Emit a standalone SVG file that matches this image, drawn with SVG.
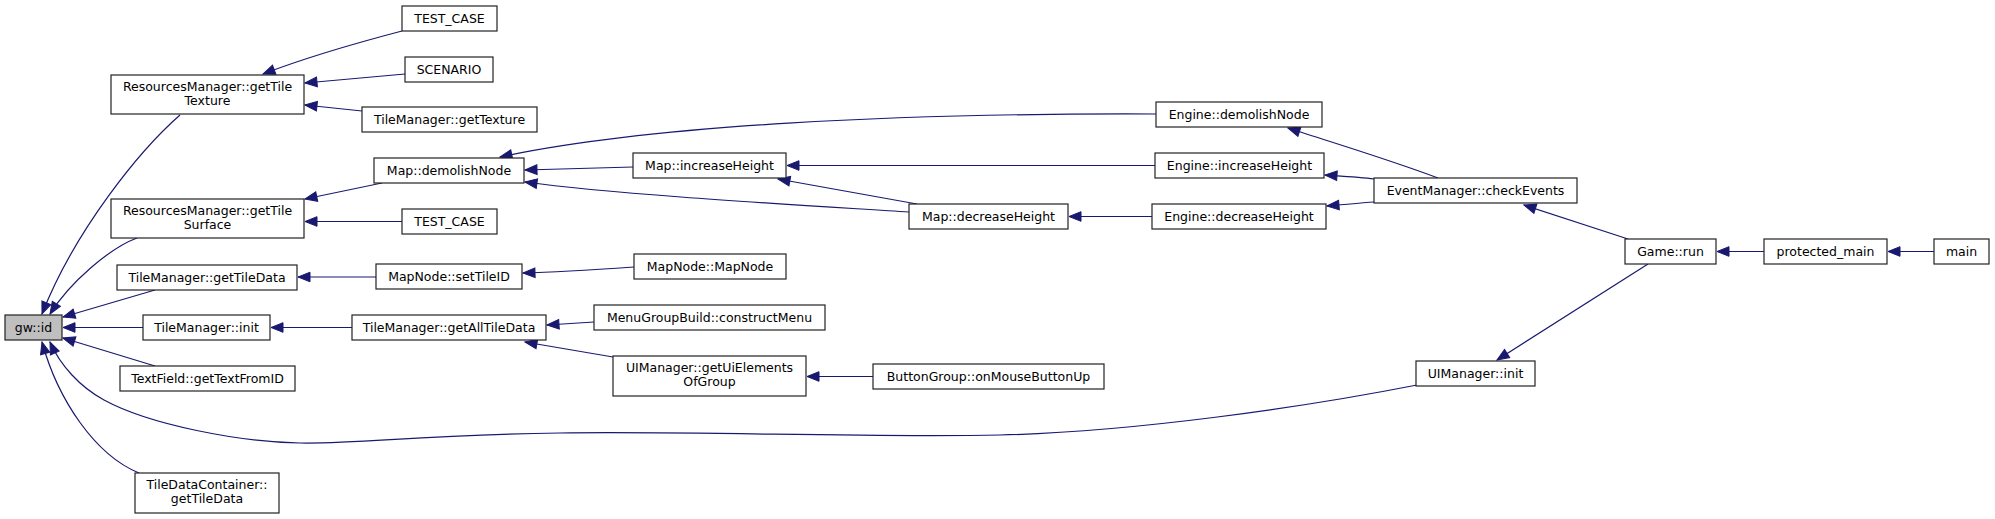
<svg xmlns="http://www.w3.org/2000/svg" width="1995" height="519" viewBox="0 0 1995 519">
<style>
.n rect{fill:#fff;stroke:#222;stroke-width:1.2}
.root rect{fill:#bfbfbf}
.n text{font-family:"DejaVu Sans","Liberation Sans",sans-serif;font-size:12.5px;fill:#000;text-anchor:middle}
.e path{fill:none;stroke:#191970;stroke-width:1.2;marker-end:url(#ah)}
</style>
<defs>
<marker id="ah" markerUnits="userSpaceOnUse" markerWidth="16" markerHeight="12" refX="0" refY="0" viewBox="-13 -6 14 12" orient="auto" overflow="visible">
<path d="M0,0 L-12,-4.8 L-12,4.8 Z" fill="#191970" stroke="#191970" stroke-width="1"/>
</marker>
</defs>
<rect width="1995" height="519" fill="#fff"/>
<g id="connectors" class="e">
<path d="M402,31 C360,42 310,56 263,74"/>
<path d="M405,74 L305,83"/>
<path d="M362,111 L305,105"/>
<path d="M382,183 L305,199"/>
<path d="M402,221.5 L305,221.5"/>
<path d="M180,115 C140,150 75,230 42,314"/>
<path d="M137,238 C110,248 70,282 50,314"/>
<path d="M155,290 L63,317"/>
<path d="M143,327.5 L63,327.5"/>
<path d="M155,366 L63,338"/>
<path d="M1417,385 C1300,408 1130,432 1000,435 C870,438 700,431 560,433 C420,435 360,444 300,443 C240,442 150,425 104,400 C80,387 60,365 50,342"/>
<path d="M139,473 C95,455 58,400 42,342"/>
<path d="M1156,114 C900,113 650,125 500,157"/>
<path d="M633,167 L525,170"/>
<path d="M909,212 C800,205 620,195 525,182"/>
<path d="M1155,165.5 L787,165.5"/>
<path d="M917,204 L778,179"/>
<path d="M1152,216.5 L1069,216.5"/>
<path d="M1438,178 C1390,160 1340,145 1288,128"/>
<path d="M1374,179 C1360,177 1340,176 1325,175"/>
<path d="M1374,202 C1360,203 1340,205 1327,206"/>
<path d="M1628,239 L1524,205"/>
<path d="M1648,264 L1497,360"/>
<path d="M1764,251.5 L1717,251.5"/>
<path d="M1934,251.5 L1888,251.5"/>
<path d="M376,277 L298,277"/>
<path d="M634,267 C590,270 560,272 523,273"/>
<path d="M352,327.5 L271,327.5"/>
<path d="M594,322 L547,325"/>
<path d="M613,357 L525,342"/>
<path d="M873,376.5 L807,376.5"/>
</g>
<g id="gw_id" class="n root"><rect x="5" y="315" width="57" height="25"/><text x="33.5" y="332">gw::id</text></g>
<g id="rm_getTileTexture" class="n"><rect x="111" y="75" width="193" height="39"/><text x="207.5" y="90.5">ResourcesManager::getTile</text><text x="207.5" y="104.5">Texture</text></g>
<g id="rm_getTileSurface" class="n"><rect x="111" y="199" width="193" height="39"/><text x="207.5" y="214.5">ResourcesManager::getTile</text><text x="207.5" y="228.5">Surface</text></g>
<g id="tm_getTileData" class="n"><rect x="117" y="265" width="180" height="25"/><text x="207" y="282">TileManager::getTileData</text></g>
<g id="tm_init" class="n"><rect x="143" y="315" width="127" height="25"/><text x="206.5" y="332">TileManager::init</text></g>
<g id="tf_getTextFromID" class="n"><rect x="120" y="366" width="175" height="25"/><text x="207.5" y="383">TextField::getTextFromID</text></g>
<g id="tdc_getTileData" class="n"><rect x="135" y="473" width="144" height="40"/><text x="207" y="488.5">TileDataContainer::</text><text x="207" y="502.5">getTileData</text></g>
<g id="test_case_1" class="n"><rect x="402" y="6" width="95" height="25"/><text x="449.5" y="23">TEST_CASE</text></g>
<g id="scenario" class="n"><rect x="405" y="57" width="88" height="25"/><text x="449" y="74">SCENARIO</text></g>
<g id="tm_getTexture" class="n"><rect x="362" y="107" width="175" height="25"/><text x="449.5" y="124">TileManager::getTexture</text></g>
<g id="map_demolishNode" class="n"><rect x="374" y="158" width="150" height="25"/><text x="449" y="175">Map::demolishNode</text></g>
<g id="test_case_2" class="n"><rect x="402" y="209" width="95" height="25"/><text x="449.5" y="226">TEST_CASE</text></g>
<g id="mapnode_setTileID" class="n"><rect x="376" y="264" width="146" height="25"/><text x="449" y="281">MapNode::setTileID</text></g>
<g id="tm_getAllTileData" class="n"><rect x="352" y="315" width="194" height="25"/><text x="449" y="332">TileManager::getAllTileData</text></g>
<g id="map_increaseHeight" class="n"><rect x="633" y="153" width="153" height="25"/><text x="709.5" y="170">Map::increaseHeight</text></g>
<g id="map_decreaseHeight" class="n"><rect x="909" y="204" width="159" height="25"/><text x="988.5" y="221">Map::decreaseHeight</text></g>
<g id="mapnode_ctor" class="n"><rect x="634" y="254" width="152" height="25"/><text x="710" y="271">MapNode::MapNode</text></g>
<g id="menugroup_constructMenu" class="n"><rect x="594" y="305" width="231" height="25"/><text x="709.5" y="322">MenuGroupBuild::constructMenu</text></g>
<g id="ui_getUiElementsOfGroup" class="n"><rect x="613" y="356" width="193" height="40"/><text x="709.5" y="371.5">UIManager::getUiElements</text><text x="709.5" y="385.5">OfGroup</text></g>
<g id="buttongroup_onMouseButtonUp" class="n"><rect x="873" y="364" width="231" height="25"/><text x="988.5" y="381">ButtonGroup::onMouseButtonUp</text></g>
<g id="engine_demolishNode" class="n"><rect x="1156" y="102" width="166" height="25"/><text x="1239" y="119">Engine::demolishNode</text></g>
<g id="engine_increaseHeight" class="n"><rect x="1155" y="153" width="169" height="25"/><text x="1239.5" y="170">Engine::increaseHeight</text></g>
<g id="engine_decreaseHeight" class="n"><rect x="1152" y="204" width="174" height="25"/><text x="1239" y="221">Engine::decreaseHeight</text></g>
<g id="eventmanager_checkEvents" class="n"><rect x="1374" y="178" width="203" height="25"/><text x="1475.5" y="195">EventManager::checkEvents</text></g>
<g id="ui_init" class="n"><rect x="1416" y="361" width="119" height="25"/><text x="1475.5" y="378">UIManager::init</text></g>
<g id="game_run" class="n"><rect x="1625" y="239" width="91" height="25"/><text x="1670.5" y="256">Game::run</text></g>
<g id="protected_main" class="n"><rect x="1764" y="239" width="123" height="25"/><text x="1825.5" y="256">protected_main</text></g>
<g id="main" class="n"><rect x="1934" y="239" width="55" height="25"/><text x="1961.5" y="256">main</text></g>
</svg>
